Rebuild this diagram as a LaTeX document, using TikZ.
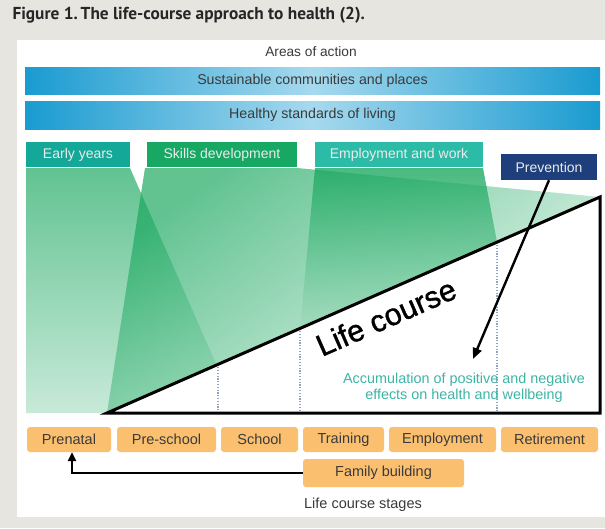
\documentclass[tikz,border=0pt]{standalone}
\usepackage{fontspec}
\setmainfont{Liberation Sans}
\newfontfamily\titlefont{PT Sans}
\newfontfamily\lcfont[FakeBold=1.2]{Liberation Sans}
\usetikzlibrary{arrows.meta,calc}
\definecolor{bg}{HTML}{E6E5DF}
\definecolor{barblue}{HTML}{1A9BD0}
\definecolor{barlight}{HTML}{A6D9EE}
\definecolor{tealA}{HTML}{14A898}
\definecolor{greenB}{HTML}{17A864}
\definecolor{tealC}{HTML}{2CBBA6}
\definecolor{navy}{HTML}{1E3F7C}
\definecolor{G}{HTML}{18A75E}
\definecolor{orangebox}{HTML}{FBC06F}
\definecolor{txt}{HTML}{3A3A3A}
\definecolor{acc}{HTML}{3DB5A6}
\definecolor{dotc}{HTML}{8FA3C0}
\tikzset{
  bar/.style={minimum width=575pt, minimum height=27pt, inner sep=0pt,
    left color=barblue, right color=barblue, middle color=barlight,
    text=txt, font=\fontsize{14.2}{16}\selectfont},
  header/.style={minimum height=25pt, inner sep=0pt, text=white!92!black,
    font=\fontsize{14}{16}\selectfont},
  stage/.style={fill=orangebox, rounded corners=3pt, minimum height=25pt,
    inner sep=0pt, text=txt, font=\fontsize{14.5}{16}\selectfont},
  dotline/.style={dotc, line width=1.3pt, dash pattern=on 1.2pt off 1.6pt},
  thickline/.style={line width=3pt, line join=miter},
  blackarrow/.style={line width=2.4pt, -{Triangle[length=11pt,width=9pt]}}
}
\begin{document}
\begin{tikzpicture}[x=1pt,y=-1pt]
\useasboundingbox (0,0) rectangle (605,528);
\fill[bg] (0,0) rectangle (605,528);
\fill[white] (17,40) rectangle (605,517);

\node[anchor=west, font=\titlefont\bfseries\fontsize{17.3}{19}\selectfont, text=black!85] (title) at (9,15) {Figure 1.\,The life-course approach to health (2).};
\node[font=\fontsize{13.7}{15}\selectfont, text=txt] (areas) at (311,52) {Areas of action};

\node[bar] (bar1) at (312.5,80.5) {Sustainable communities and places};
\node[bar, minimum height=28pt] (bar2) at (312.5,115) {Healthy standards of living};

% green regions
\shade[top color=G, bottom color=G!35, opacity=0.68]
  (26,168) -- (130,168) -- (217,366) -- (107,413) -- (26,413) -- cycle;
\shade[top color=G, bottom color=G!12, shading angle=35, opacity=0.68]
  (145,168) -- (297,168) -- (600,197) -- (107,413) -- cycle;
\shade[top color=G, bottom color=G!40, opacity=0.78]
  (315,168) -- (483,168) -- (497,242.1) -- (300,328.4) -- cycle;

\node[header, fill=tealA, minimum width=104pt] (early) at (78,154.5) {Early years};
\node[header, fill=greenB, minimum width=150pt] (skills) at (222,154.5) {Skills development};
\node[header, fill=tealC, minimum width=168pt] (work) at (399,154.5) {Employment and work};
\node[header, fill=navy, minimum width=96pt, minimum height=26pt] (prev) at (549,167) {Prevention};

% dotted stage dividers
\coordinate (d1t) at (218,364.4); \coordinate (d1b) at (218,413);
\coordinate (d2t) at (300,328.4); \coordinate (d2b) at (300,413);
\coordinate (d3t) at (497,242.1); \coordinate (d3b) at (497,413);
\draw[dotline] (d1t) -- (d1b);
\draw[dotline] (d2t) -- (d2b);
\draw[dotline] (d3t) -- (d3b);

% life course triangle
\coordinate (ta) at (107,413);
\coordinate (tb) at (600,413);
\coordinate (tc) at (600,197);
\draw[thickline] (ta) -- (tb) -- (tc) -- cycle;

\node[rotate=23.66, font=\lcfont\fontsize{30.5}{32}\selectfont, inner sep=0pt] (lc) at (386,317) {Life course};

\node[align=center, text=acc, font=\fontsize{14.4}{16.5}\selectfont] (accum) at (464,388)
  {Accumulation of positive and negative\\effects on health and wellbeing};

\coordinate (tip) at (473,359);
\draw[blackarrow] (prev.south) -- (tip);

% stages
\node[stage, minimum width=84pt] (pre) at (69,439.5) {Prenatal};
\node[stage, minimum width=99pt] (ps) at (166.5,439.5) {Pre-school};
\node[stage, minimum width=77pt] (sch) at (259.5,439.5) {School};
\node[stage, minimum width=81pt] (tr) at (343.5,439.5) {Training};
\node[stage, minimum width=107pt] (emp) at (442.5,439.5) {Employment};
\node[stage, minimum width=97pt] (ret) at (549.5,439.5) {Retirement};
\node[stage, minimum width=161pt, minimum height=28pt] (fam) at (383.5,473) {Family building};

\draw[line width=2.6pt, -{Triangle[length=9pt,width=8pt]}] (fam.west) -| ([xshift=3pt]pre.south);

\node[text=txt, font=\fontsize{14.5}{16}\selectfont] (stages) at (363,505) {Life course stages};
\end{tikzpicture}
\end{document}
